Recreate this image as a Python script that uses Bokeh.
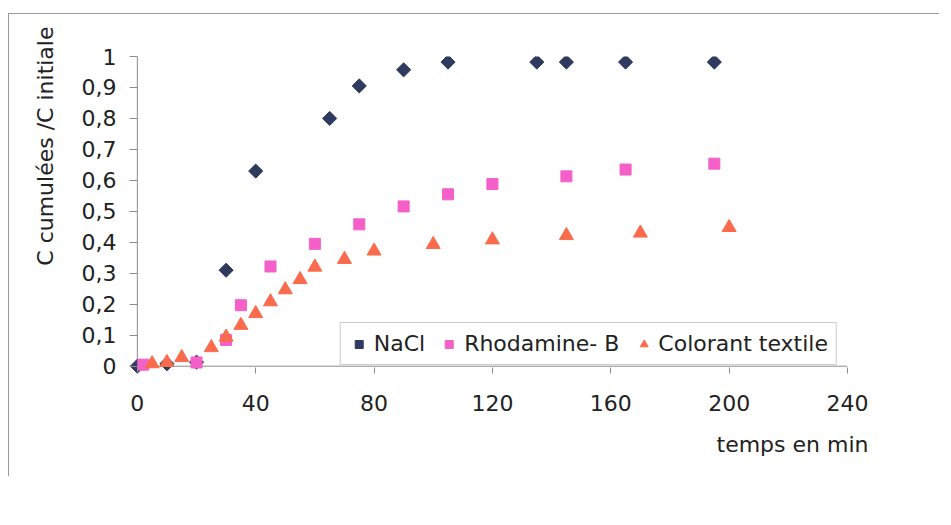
from math import pi
from bokeh.plotting import figure
from bokeh.models import (Range1d, FixedTicker, CustomJSTickFormatter, Title,
                          Legend, LegendItem)
from bokeh.embed import file_html
from bokeh.resources import INLINE

# ---- data ----
nacl_t = [0, 10, 20, 30, 40, 65, 75, 90, 105, 135, 145, 165, 195]
nacl_c = [0.0, 0.008, 0.013, 0.31, 0.63, 0.80, 0.905, 0.957, 0.982, 0.982, 0.982, 0.982, 0.982]

rhod_t = [2, 20, 30, 35, 45, 60, 75, 90, 105, 120, 145, 165, 195]
rhod_c = [0.005, 0.012, 0.085, 0.197, 0.322, 0.395, 0.458, 0.516, 0.555, 0.588, 0.613, 0.635, 0.654]

col_t = [5, 10, 15, 25, 30, 35, 40, 45, 50, 55, 60, 70, 80, 100, 120, 145, 170, 200]
col_c = [0.008, 0.012, 0.028, 0.06, 0.094, 0.132, 0.17, 0.208, 0.247, 0.28, 0.32,
         0.345, 0.372, 0.393, 0.408, 0.422, 0.43, 0.448]

x_ticks = [0, 40, 80, 120, 160, 200, 240]
y_ticks = [0, 0.1, 0.2, 0.3, 0.4, 0.5, 0.6, 0.7, 0.8, 0.9, 1.0]

series_names = ["NaCl", "Rhodamine- B", "Colorant textile"]
x_title = "temps en min"
y_title = "C cumulées /C initiale"

FONT = "DejaVu Sans"
TXT = "#222222"
AX = "#8c8c8c"

p = figure(width=930, height=511, frame_width=722, frame_height=319,
           x_range=Range1d(-4, 240), y_range=Range1d(-0.03, 1.0),
           output_backend="svg", toolbar_location=None,
           min_border_left=116, min_border_right=92,
           min_border_top=42, min_border_bottom=0,
           background_fill_color="white", border_fill_color="white",
           styles={"margin-top": "13px", "margin-left": "8px",
                   "border-top": "1px solid #999999",
                   "border-left": "1px solid #999999"})
p.outline_line_color = None
p.xgrid.visible = False
p.ygrid.visible = False

for ax in (p.xaxis[0], p.yaxis[0]):
    ax.axis_line_color = None
    ax.major_tick_line_color = AX
    ax.minor_tick_out = 0
    ax.minor_tick_in = 0
    ax.major_label_text_font = FONT
    ax.major_label_text_font_size = "22px"
    ax.major_label_text_color = TXT

# ticks sit on the zero lines, which lie a little inside the frame
p.xaxis[0].ticker = FixedTicker(ticks=x_ticks, minor_ticks=[])
p.xaxis[0].major_tick_in = 8
p.xaxis[0].major_tick_out = -2
p.xaxis[0].major_label_standoff = 19
p.yaxis[0].ticker = FixedTicker(ticks=y_ticks, minor_ticks=[])
p.yaxis[0].major_tick_in = 12
p.yaxis[0].major_tick_out = -4
p.yaxis[0].major_label_standoff = 9
p.yaxis[0].formatter = CustomJSTickFormatter(
    code="return (Math.round(tick*10)/10).toString().replace('.', ',');")

# axis lines along x=0 and y=0
p.segment(x0=[x_ticks[0], x_ticks[0]], y0=[y_ticks[0], y_ticks[0]],
          x1=[x_ticks[-1], x_ticks[0]], y1=[y_ticks[0], y_ticks[-1]],
          line_color=AX, line_width=1)

r1 = p.scatter(nacl_t, nacl_c, marker="square", angle=pi / 4, size=10,
               fill_color="#2f3a5e", line_color="#2f3a5e")
r2 = p.scatter(rhod_t, rhod_c, marker="square", size=11,
               fill_color="#f55fc8", line_color="#f55fc8")
r3 = p.scatter(col_t, col_c, marker="triangle", size=14,
               fill_color="#f96b4c", line_color="#f96b4c")

p.add_layout(Title(text=y_title, align="right", offset=-30,
                   vertical_align="bottom", standoff=42,
                   text_font=FONT, text_font_size="22px",
                   text_font_style="normal", text_color=TXT), "left")
p.add_layout(Title(text=x_title, align="right", offset=-21,
                   vertical_align="top", standoff=36,
                   text_font=FONT, text_font_size="22px",
                   text_font_style="normal", text_color=TXT), "below")

legend = Legend(items=[LegendItem(label=series_names[0], renderers=[r1]),
                       LegendItem(label=series_names[1], renderers=[r2]),
                       LegendItem(label=series_names[2], renderers=[r3])],
                orientation="horizontal", location="bottom_right", margin=10,
                label_text_font=FONT, label_text_font_size="22px",
                label_text_color=TXT, glyph_width=20, glyph_height=20,
                spacing=14, padding=8, label_standoff=5,
                border_line_color="#9a9a9a", border_line_width=1,
                background_fill_color="white", background_fill_alpha=1)
p.add_layout(legend)

open("out.html", "w").write(file_html(p, INLINE))
